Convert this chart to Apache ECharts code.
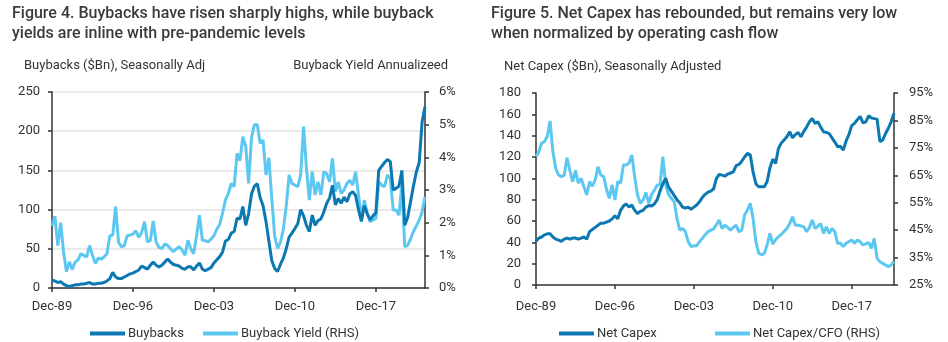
<!DOCTYPE html>
<html>
<head>
<meta charset="utf-8">
<script src="https://cdn.jsdelivr.net/npm/echarts@6/dist/echarts.min.js"></script>
<style>
html,body{margin:0;padding:0;background:#fff;}
#c{width:948px;height:342px;}
</style>
</head>
<body>
<div id="c"></div>
<script>
// ---- Data (quarterly, starting Dec-89) ----
var buybacks = [10,9,7,8,5,3,2,3,4,4,5,5,6,7,5,5,6,6,7,9,
12,20,14,12,12,14,16,18,19,21,23,28,26,24,29,33,29,27,29,33,
37,33,30,29,28,25,24,27,27,23,28,32,24,22,24,26,32,36,40,46,
60,62,70,72,89,88,104,80,95,120,130,133,115,105,85,60,35,25,21,30,
38,50,65,70,76,82,100,92,80,72,93,80,86,88,97,108,115,131,106,114,
108,116,110,120,123,118,100,85,105,95,87,92,96,150,155,160,164,161,125,127,
130,150,80,90,110,130,148,160,212,231];
var buybackYield = [1.9,2.2,1.3,2.0,1.1,0.5,0.8,0.57,0.8,0.86,1.05,1.0,0.95,1.3,1.0,0.75,0.92,0.88,0.95,1.05,
1.6,1.62,2.49,1.41,1.26,1.3,1.6,1.62,1.65,1.75,1.55,1.7,2.03,1.41,1.45,2.05,1.41,1.25,1.2,1.35,
1.3,1.2,1.11,1.2,1.26,1.16,1.0,1.46,1.2,1.05,1.6,2.23,1.46,1.45,1.41,1.5,1.6,1.8,1.95,2.3,
2.7,2.9,3.2,3.1,4.12,3.9,4.63,4.33,3.2,4.6,5.0,5.0,4.43,4.53,3.46,3.99,2.74,1.6,1.21,1.4,
1.8,2.5,3.46,3.2,3.15,3.1,3.46,4.94,3.66,2.69,3.56,2.85,3.25,2.85,3.56,3.5,3.25,3.97,2.95,3.25,
2.9,3.0,3.2,3.3,3.15,3.56,2.85,2.13,2.69,2.3,2.03,2.08,2.13,3.25,3.15,3.1,3.46,3.35,2.39,2.39,
2.23,3.15,1.26,1.31,1.5,1.73,1.9,2.08,2.33,2.79];
var netCapex = [41,44,45,47,48,48,45,43,42,41,43,44,43,44,44,43,44,45,43,50,
52,54,56,58,58,59,60,62,65,62,70,74,76,73,75,70,67,69,70,73,
74.5,74,76,80,88,95,100,92,88,84,80,77,73,72,73,71,73,75,78,82,
85,87,88,90,100,103.6,103,102,104,105,106,112,113,116,120,123.4,122,106,95,92,
92,92,97,110,118,114,128,133,136,139,143.7,138,141,143,139,144,148,153,156,151.5,
153,148,143.7,143,142,138,134,129.7,130,126.5,135,141,149.4,151.5,155,158,152,153,158.6,156.7,
156,155.5,134.4,136,142,147,153,161];
var capexToCFO = [71.8,73.6,76.7,77.3,79.1,84.8,73.6,67.5,65.1,64.5,65,71.4,66.8,62.7,66.8,62.1,63.9,60.8,57.8,62.7,
61,63.3,68.1,65.1,64.5,60,56.6,61.5,56,62.7,62.1,68.75,68.75,69.5,72.4,64.5,57.8,54.8,56,58.7,
54.8,58,59.6,61.5,61.5,71.8,61.5,58,56.6,55.4,49.3,45,45.6,44.4,40.8,39,39.3,39.3,40.8,42,
43.3,44.4,45,45.4,47,48.7,45.6,46.8,46,45,46,46.8,44.4,45,50.5,52.3,54.8,49.3,40.8,36.6,
36,36.5,39.6,43.8,39.9,41.5,42.6,43.4,44.5,45.6,47.4,49.9,46.8,46.8,46.5,46.2,44.4,46,48.7,45.6,
46.5,47.4,43.8,46.2,43.8,45.6,44.4,40.2,40.2,39,40.2,40.8,41.4,40.2,41.4,40.8,39.6,40,40.5,38.4,
42,34.7,33.5,32.9,32.3,31.7,32.3,33.5];
var tickLabels = ['Dec-89','Dec-96','Dec-03','Dec-10','Dec-17'];
var monthNames = ['Dec','Mar','Jun','Sep'];

// quarterly category labels from Dec-89
function quarters(n){
  var out=[];
  for(var i=0;i<n;i++){
    var yr = 1989 + Math.floor((i+3)/4);
    out.push(monthNames[i%4] + '-' + String(yr%100).padStart(2,'0'));
  }
  return out;
}
var catsL = quarters(buybacks.length);
var catsR = quarters(netCapex.length);

var DARK = '#0b78b1', LIGHT = '#5cc7f1', TXT = '#333333', AX = '#333333';
var FONT = 'Roboto';

function xAxis(gi, cats, margin){
  return {
    type:'category', gridIndex:gi, data:cats, boundaryGap:false,
    axisLine:{lineStyle:{color:AX,width:1.5}},
    axisTick:{interval:27,length:4,lineStyle:{color:AX,width:1.5}},
    axisLabel:{interval:27,color:TXT,fontSize:13,fontFamily:FONT,margin:margin},
    splitLine:{show:false}
  };
}
function yAxis(gi, pos, min, max, interval, fmt, margin, grid){
  return {
    type:'value', gridIndex:gi, position:pos, min:min, max:max, interval:interval,
    axisLine:{show:true,lineStyle:{color:AX,width:1.5}},
    axisTick:{show:true,length:4,lineStyle:{color:AX,width:1.5}},
    axisLabel:{color:TXT,fontSize:13,fontFamily:FONT,margin:margin,formatter:fmt},
    splitLine:{show:grid,lineStyle:{color:'#e3e3e3',width:1.5}}
  };
}
function txt(x,y,s,opt){
  opt = opt||{};
  return {type:'text',left:x,top:y,silent:true,
    style:{text:s,fill:opt.fill||TXT,font:(opt.weight||'normal')+' '+(opt.size||13)+'px '+FONT,
      textAlign:opt.align||'left',textVerticalAlign:'middle'}};
}

var chart = echarts.init(document.getElementById('c'));
var option = {
  animation:false,
  backgroundColor:'#fff',
  grid:[
    {left:52,top:92,width:373,height:196},
    {left:536,top:93,width:358,height:192}
  ],
  xAxis:[xAxis(0,catsL,12), xAxis(1,catsR,15)],
  yAxis:[
    yAxis(0,'left',0,250,50,'{value}',12,true),
    yAxis(0,'right',0,6,1,'{value}%',14,false),
    yAxis(1,'left',0,180,20,'{value}',15,false),
    yAxis(1,'right',25,95,10,'{value}%',15,false)
  ],
  legend:[
    {data:['Buybacks'],left:85,top:322,itemWidth:35,itemHeight:4,icon:'rect',itemGap:0,textStyle:{color:TXT,fontSize:13,fontFamily:FONT,padding:[0,0,0,-2]}},
    {data:['Buyback Yield (RHS)'],left:198,top:322,itemWidth:35,itemHeight:4,icon:'rect',textStyle:{color:TXT,fontSize:13,fontFamily:FONT,padding:[0,0,0,-2]}},
    {data:['Net Capex'],left:554,top:322,itemWidth:35,itemHeight:4,icon:'rect',textStyle:{color:TXT,fontSize:13,fontFamily:FONT,padding:[0,0,0,-2]}},
    {data:['Net Capex/CFO (RHS)'],left:710,top:322,itemWidth:35,itemHeight:4,icon:'rect',textStyle:{color:TXT,fontSize:13,fontFamily:FONT,padding:[0,0,0,-2]}}
  ],
  series:[
    {name:'Buyback Yield (RHS)',type:'line',xAxisIndex:0,yAxisIndex:1,data:buybackYield,showSymbol:false,
      lineStyle:{color:LIGHT,width:3},itemStyle:{color:LIGHT},z:2},
    {name:'Buybacks',type:'line',xAxisIndex:0,yAxisIndex:0,data:buybacks,showSymbol:false,
      lineStyle:{color:DARK,width:3},itemStyle:{color:DARK},z:3},
    {name:'Net Capex',type:'line',xAxisIndex:1,yAxisIndex:2,data:netCapex,showSymbol:false,
      lineStyle:{color:DARK,width:3},itemStyle:{color:DARK},z:3},
    {name:'Net Capex/CFO (RHS)',type:'line',xAxisIndex:1,yAxisIndex:3,data:capexToCFO,showSymbol:false,
      lineStyle:{color:LIGHT,width:3},itemStyle:{color:LIGHT},z:2}
  ],
  graphic:[
    txt(12,6,'Figure 4. Buybacks have risen sharply highs, while buyback',{size:16,weight:'500',fill:'#3a3a3a'}),
    txt(12,26,'yields are inline with pre-pandemic levels',{size:16,weight:'500',fill:'#3a3a3a'}),
    txt(491,6,'Figure 5. Net Capex has rebounded, but remains very low',{size:16,weight:'500',fill:'#3a3a3a'}),
    txt(491,26,'when normalized by operating cash flow',{size:16,weight:'500',fill:'#3a3a3a'}),
    txt(24,59,'Buybacks ($Bn), Seasonally Adj'),
    {type:'text',right:500,top:59,silent:true,style:{text:'Buyback Yield Annualizeed',fill:TXT,font:'normal 13px '+FONT}},
    txt(504,60,'Net Capex ($Bn), Seasonally Adjusted')
  ]
};
chart.setOption(option);
</script>
</body>
</html>
